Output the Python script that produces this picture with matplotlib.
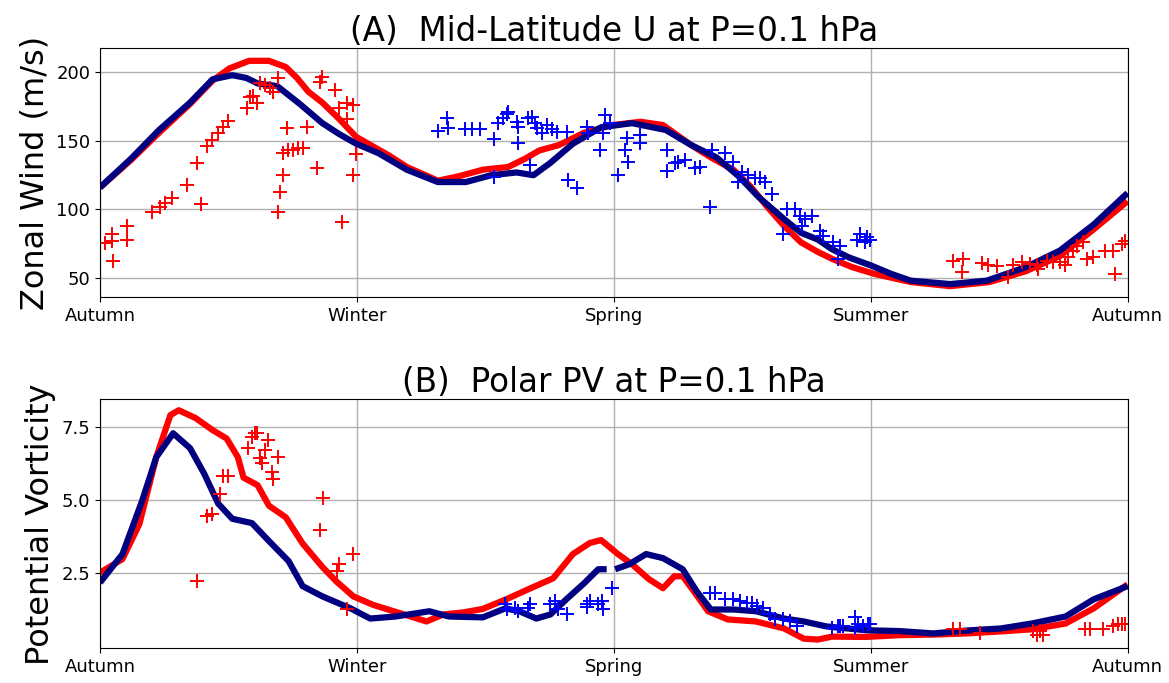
import numpy as np
import matplotlib
matplotlib.use("Agg")
import matplotlib.pyplot as plt

# ---------------- data ----------------
season_labels = ["Autumn", "Winter", "Spring", "Summer", "Autumn"]
season_days = [0, 91.25, 182.5, 273.75, 365]

# (A) Mid-latitude U at 0.1 hPa, model curves
u_blue_day = [0, 11, 21, 32, 40, 47, 52, 56, 63, 71, 79, 85, 91, 99, 109, 120, 130, 139,
              148, 154, 160, 168, 178, 189, 201, 210, 219, 227, 234, 243, 249, 255, 260,
              266, 274, 281, 288, 302, 315, 329, 341, 353, 365]
u_blue_val = [116, 137, 158, 178, 195, 198, 196, 192, 190, 177, 163, 155, 148, 141, 129, 120,
              120, 125, 127, 125, 134, 148, 160, 163, 158, 147, 138, 124, 109, 93, 83, 78,
              71, 65, 59, 53, 48, 45.5, 48, 58, 70, 89, 112]
u_red_day = [0, 11, 21, 32, 40, 46, 53, 60, 66, 70, 74, 79, 85, 91, 97, 103, 109, 120, 127,
             136, 145, 151, 156, 163, 172, 182, 192, 200, 210, 217, 225, 231, 237, 243, 249,
             255, 260, 267, 275, 288, 302, 316, 329, 341, 353, 365]
u_red_val = [116, 136, 156, 177, 194, 203, 208.5, 208.5, 204, 196, 186, 178, 166, 153, 146,
             139, 131, 121, 124, 129, 131, 137, 143, 147, 156, 161.6, 164, 161.6, 147, 138,
             129, 117, 102, 88, 76, 69, 64, 58, 53, 47, 44, 47, 55, 66, 85.5, 106]

# (A) observations
u_obs_red_day = [1.8, 4.3, 4.3, 4.6, 9.6, 9.6, 18.5, 21.3, 23.1, 25.6, 30.9, 34.5, 35.9, 38.0,
                 39.8, 41.9, 43.7, 45.5, 52.2, 53.3, 54.3, 55.8, 56.8, 58.6, 60.4, 61.5, 63.2,
                 66.4, 65.0, 66.8, 68.6, 70.3, 72.1, 65.0, 63.9, 63.2, 73.5, 77.1, 78.1, 78.9,
                 83.5, 84.9, 87.7, 89.9, 87.7, 90.9, 89.9, 86.0,
                 303.0, 306.5, 306.2, 313.3, 315.4, 318.6, 322.5, 324.3, 327.5, 330.3, 332.8,
                 333.2, 336.4, 338.5, 341.0, 342.8, 343.8, 345.6, 347.0, 349.2, 350.6, 352.7,
                 357.0, 359.8, 360.5, 363.0, 364.1]
u_obs_red_val = [75.5, 82, 77, 62, 88, 77.5, 98, 101.5, 105, 108.7, 118, 133.6, 104, 146.4,
                 150.7, 155.8, 160, 164.5, 173.9, 182, 183, 177.5, 192, 190.6, 189, 185.5,
                 195.6, 159.4, 141, 143.5, 143.5, 144.9, 144.9, 125, 113, 98, 160, 130.4,
                 192.8, 197, 187, 173.9, 178, 176, 166, 140.6, 125, 90.6,
                 62, 63.8, 54, 61, 59.4, 58.7, 50.7, 59.4, 61.6, 60, 59.4, 56.5, 62, 61.6,
                 61.6, 59.4, 65, 69.5, 73, 76, 63.8, 65, 69.5, 69.5, 53, 74.6, 77]
u_obs_blue_day = [120.1, 123.3, 123.6, 129.7, 132.1, 135.0, 140.0, 141.4, 143.1, 144.6, 144.9,
                  148.1, 148.5, 148.5, 152.0, 153.5, 154.5, 155.2, 157.0, 158.8, 160.6, 162.3,
                  165.9, 152.7, 140.0, 166.2, 169.4, 173.0, 173.3, 177.6, 178.7, 179.4, 181.2,
                  184.0, 186.5, 187.2, 187.6, 191.8, 191.8, 201.4, 201.4, 204.2, 205.3, 207.8,
                  211.3, 213.1, 217.4, 216.7, 222.0, 224.8, 226.6, 228.0, 230.2, 232.7, 234.4,
                  236.2, 238.7, 244.0, 246.9, 248.6, 250.4, 252.9, 249.3, 242.6, 255.7, 256.8,
                  260.4, 262.8, 262.1, 268.9, 270.0, 271.7, 273.5, 272.4]
u_obs_blue_val = [157, 166.7, 159.4, 158.7, 158.7, 158.7, 151.4, 163, 166.7, 170, 171, 163.8,
                  160, 148.6, 166.7, 167.4, 163, 159.4, 155.8, 161.6, 158.7, 156.5, 156.5,
                  132.6, 124, 121.7, 116, 160, 155.8, 143.5, 155.8, 168.8, 163, 125, 143.5,
                  152, 134.8, 154, 148.6, 143.5, 128, 134, 134.8, 136, 130.4, 131, 143.5, 102,
                  141, 134.8, 120, 127.5, 125, 123, 123, 120, 111, 100, 100, 95, 93, 95, 88,
                  81.8, 84, 80.4, 76, 73, 63.8, 78, 82, 76, 78, 80]

# (B) Polar PV at 0.1 hPa, model curves (NaN = gap in the blue curve)
pv_blue_day = [0, 8, 15, 20, 26, 32, 37, 42, 47, 54, 60, 67, 72, 79, 89, 96, 105, 117, 124,
               136, 144, 149, 155, 160, 166, 172, 177, 180, 181.5, 183, 188, 194, 200, 207,
               212, 217, 225, 233, 243, 250, 258, 272, 284, 296, 308, 320, 331, 343, 353, 365]
pv_blue_val = [2.16, 3.14, 4.97, 6.46, 7.28, 6.77, 5.9, 4.87, 4.35, 4.2, 3.59, 2.9, 2.04, 1.69,
               1.28, 0.93, 1.0, 1.18, 1.0, 0.97, 1.28, 1.18, 0.93, 1.07, 1.62, 2.14, 2.62,
               2.62, np.nan, 2.62, 2.79, 3.14, 3.0, 2.62, 1.86, 1.24, 1.24, 1.18, 0.93, 0.83,
               0.66, 0.53, 0.5, 0.42, 0.52, 0.59, 0.76, 1.0, 1.59, 2.04]
pv_red_day = [0, 8, 14, 20, 25, 28, 34, 40, 45, 49, 51, 56, 60, 66, 72, 79, 84, 90, 97, 105,
              116, 122, 129, 136, 145, 153, 161, 168, 174, 178, 184, 189, 195, 200, 204, 207,
              211, 216, 223, 233, 243, 250, 255, 260, 272, 284, 296, 308, 320, 331, 343, 353,
              365]
pv_red_val = [2.5, 2.97, 4.17, 6.46, 7.9, 8.07, 7.8, 7.39, 7.1, 6.46, 5.76, 5.5, 4.8, 4.4, 3.5,
              2.7, 2.2, 1.69, 1.4, 1.16, 0.83, 1.07, 1.14, 1.26, 1.62, 1.97, 2.31, 3.14, 3.52,
              3.62, 3.14, 2.79, 2.28, 1.97, 2.38, 2.38, 1.86, 1.18, 0.9, 0.83, 0.59, 0.24,
              0.21, 0.31, 0.3, 0.36, 0.38, 0.42, 0.49, 0.56, 0.76, 1.28, 2.1]

# (B) observations
pv_obs_red_day = [34.5, 38.0, 39.8, 42.6, 43.7, 45.5, 52.6, 54.0, 55.1, 55.8, 56.8, 57.5, 58.6,
                  59.7, 61.1, 61.5, 63.2, 78.1, 79.2, 84.2, 84.9, 89.9, 87.7,
                  303.0, 305.5, 312.6, 331.4, 332.8, 333.9, 335.0, 349.9, 351.7, 356.3, 359.8,
                  361.6, 363.0, 364.1]
pv_obs_red_val = [2.2, 4.45, 4.52, 5.2, 5.83, 5.83, 6.76, 7.15, 7.29, 7.29, 6.43, 6.25, 6.7,
                  7.04, 5.94, 5.7, 6.46, 3.97, 5.07, 2.56, 2.8, 3.14, 1.25,
                  0.56, 0.56, 0.45, 0.49, 0.38, 0.49, 0.38, 0.56, 0.56, 0.56, 0.66, 0.73, 0.73,
                  0.76]
pv_obs_blue_day = [143.9, 144.6, 147.4, 148.5, 152.7, 152.0, 159.8, 161.6, 162.7, 165.9, 173.0,
                   174.0, 173.0, 176.9, 178.3, 178.7, 181.9, 216.7, 218.5, 222.0, 224.8, 227.3,
                   229.8, 231.6, 233.4, 235.5, 238.0, 239.8, 242.6, 245.1, 247.6, 260.0, 262.8,
                   268.2, 269.2, 271.0, 273.5, 268.2, 262.1, 263.9, 272.8]
pv_obs_blue_val = [1.42, 1.25, 1.28, 1.18, 1.42, 1.28, 1.42, 1.52, 1.25, 1.07, 1.42, 1.52,
                   1.31, 1.42, 1.52, 1.25, 1.97, 1.8, 1.8, 1.59, 1.59, 1.52, 1.45, 1.45, 1.35,
                   1.28, 1.07, 0.93, 0.93, 0.83, 0.66, 0.59, 0.66, 1.0, 0.73, 0.66, 0.73, 0.59,
                   0.66, 0.66, 0.73]

# ---------------- plot ----------------
RED = "#ff0000"
NAVY = "#000080"
BLUE = "#0000ff"

fig = plt.figure(figsize=(11.69, 6.83), dpi=100)
axA = fig.add_axes([0.0855, 0.565, 0.879, 0.365])
axB = fig.add_axes([0.0855, 0.0508, 0.879, 0.3648])

def style(ax):
    ax.set_xlim(0, 365)
    ax.set_xticks(season_days)
    ax.set_xticklabels(season_labels, fontsize=13)
    ax.tick_params(axis="y", labelsize=13)
    ax.grid(True, color="#b0b0b0", linewidth=1.0)
    ax.set_axisbelow(True)

axA.plot(u_red_day, u_red_val, color=RED, lw=4.5, solid_capstyle="butt")
axA.plot(u_blue_day, u_blue_val, color=NAVY, lw=4.5, solid_capstyle="butt")
axA.plot(u_obs_red_day, u_obs_red_val, "+", color=RED, ms=10, mew=1.4)
axA.plot(u_obs_blue_day, u_obs_blue_val, "+", color=BLUE, ms=10, mew=1.4)
axA.set_ylim(36, 218)
axA.set_yticks([50, 100, 150, 200])
axA.set_title("(A)  Mid-Latitude U at P=0.1 hPa", fontsize=23.5, pad=5)
axA.set_ylabel("Zonal Wind (m/s)", fontsize=23)
style(axA)

axB.plot(pv_red_day, pv_red_val, color=RED, lw=4.5, solid_capstyle="butt")
axB.plot(pv_blue_day, pv_blue_val, color=NAVY, lw=4.5, solid_capstyle="butt")
axB.plot(pv_obs_red_day, pv_obs_red_val, "+", color=RED, ms=10, mew=1.4)
axB.plot(pv_obs_blue_day, pv_obs_blue_val, "+", color=BLUE, ms=10, mew=1.4)
axB.set_ylim(-0.09, 8.45)
axB.set_yticks([2.5, 5.0, 7.5])
axB.set_title("(B)  Polar PV at P=0.1 hPa", fontsize=23.5, pad=5)
axB.set_ylabel("Potential Vorticity", fontsize=23)
style(axB)

fig.savefig("out.png", dpi=100)
